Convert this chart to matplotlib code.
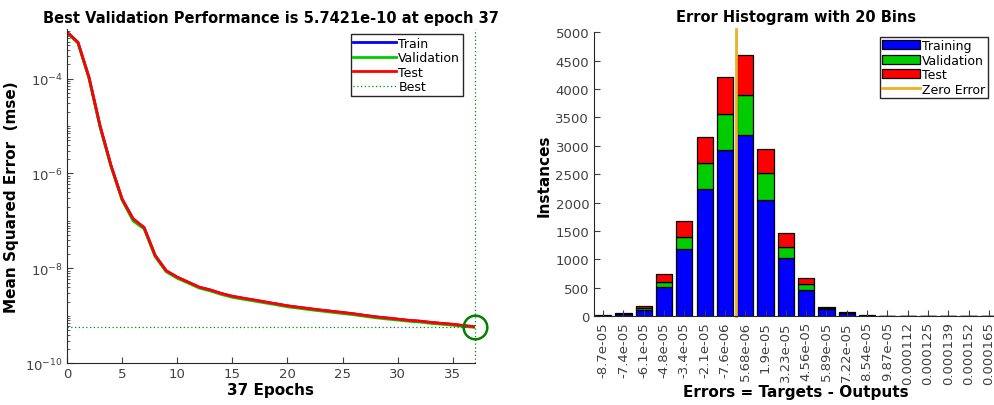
import numpy as np
import matplotlib
matplotlib.use("Agg")
import matplotlib.pyplot as plt
from matplotlib.ticker import LogLocator, NullFormatter

# training record (mse per epoch)
epochs = list(range(38))
train_mse = [9.55e-4, 5.75e-4, 1.05e-4, 1.0e-5, 1.45e-6, 2.88e-7, 1.10e-7, 7.2e-8,
             1.86e-8, 8.9e-9, 6.5e-9, 5.1e-9, 4.0e-9, 3.5e-9, 2.95e-9, 2.57e-9,
             2.34e-9, 2.14e-9, 1.95e-9, 1.78e-9, 1.62e-9, 1.51e-9, 1.41e-9, 1.32e-9,
             1.245e-9, 1.17e-9, 1.10e-9, 1.02e-9, 9.5e-10, 9.0e-10, 8.5e-10, 8.0e-10,
             7.7e-10, 7.25e-10, 6.9e-10, 6.6e-10, 6.2e-10, 5.85e-10]
val_mse = [9.3e-4, 5.6e-4, 1.02e-4, 9.6e-6, 1.39e-6, 2.75e-7, 1.0e-7, 6.8e-8,
           1.76e-8, 8.5e-9, 6.2e-9, 4.9e-9, 3.85e-9, 3.35e-9, 2.83e-9, 2.46e-9,
           2.24e-9, 2.05e-9, 1.87e-9, 1.71e-9, 1.55e-9, 1.45e-9, 1.35e-9, 1.27e-9,
           1.19e-9, 1.12e-9, 1.055e-9, 9.8e-10, 9.1e-10, 8.6e-10, 8.15e-10, 7.7e-10,
           7.4e-10, 6.95e-10, 6.65e-10, 6.35e-10, 5.98e-10, 5.7421e-10]
test_mse = [9.6e-4, 5.8e-4, 1.06e-4, 1.01e-5, 1.46e-6, 2.9e-7, 1.11e-7, 7.25e-8,
            1.87e-8, 8.95e-9, 6.55e-9, 5.15e-9, 4.03e-9, 3.52e-9, 2.97e-9, 2.59e-9,
            2.36e-9, 2.16e-9, 1.96e-9, 1.79e-9, 1.63e-9, 1.52e-9, 1.42e-9, 1.33e-9,
            1.25e-9, 1.18e-9, 1.105e-9, 1.025e-9, 9.55e-10, 9.05e-10, 8.55e-10, 8.05e-10,
            7.75e-10, 7.3e-10, 6.95e-10, 6.65e-10, 6.25e-10, 5.9e-10]
best_epoch = 37
best_perf = 5.7421e-10

# error histogram, 20 bins
bin_labels = ["-8.7e-05", "-7.4e-05", "-6.1e-05", "-4.8e-05", "-3.4e-05", "-2.1e-05",
              "-7.6e-06", "5.68e-06", "1.9e-05", "3.23e-05", "4.56e-05", "5.89e-05",
              "7.22e-05", "8.54e-05", "9.87e-05", "0.000112", "0.000125", "0.000139",
              "0.000152", "0.000165"]
bin_first = -8.7e-05
bin_last = 0.000165
hist_train = [10, 38, 111, 521, 1184, 2235, 2932, 3186, 2055, 1021, 463, 128, 55, 10, 0, 0, 0, 0, 0, 0]
hist_val = [3, 8, 30, 88, 206, 458, 634, 709, 462, 204, 100, 18, 8, 3, 0, 0, 0, 0, 0, 0]
hist_test = [3, 7, 35, 135, 282, 457, 651, 709, 422, 236, 106, 18, 7, 2, 0, 0, 0, 0, 0, 0]

TICK_C = "#404040"
plt.rcParams["font.family"] = "DejaVu Sans"
plt.rcParams["xtick.direction"] = "in"
plt.rcParams["ytick.direction"] = "in"
plt.rcParams["axes.edgecolor"] = "#262626"

fig = plt.figure(figsize=(9.95, 4.06), dpi=100)

# ---- performance plot ----
ax1 = fig.add_axes([0.0673, 0.1027, 0.410, 0.823])
ax1.semilogy(epochs, train_mse, color=(0, 0, 1), lw=2, label="Train")
ax1.semilogy(epochs, val_mse, color=(0, 0.8, 0), lw=2, label="Validation")
ax1.semilogy(epochs, test_mse, color=(1, 0, 0), lw=2, label="Test")
ax1.axhline(best_perf, color=(0, 0.55, 0), lw=0.9, ls=(0, (1, 2)), label="Best")
ax1.axvline(best_epoch, color=(0, 0.55, 0), lw=0.9, ls=(0, (1, 2)), clip_on=False)
ax1.plot([best_epoch], [best_perf], "o", ms=17, mfc="none", mec=(0, 0.5, 0), mew=1.8,
         clip_on=False)
ax1.set_xlim(0, 37)
ax1.set_ylim(1e-10, 1.1e-3)
ax1.set_yticks([1e-10, 1e-8, 1e-6, 1e-4])
ax1.yaxis.set_minor_locator(LogLocator(base=10, subs=np.arange(1, 10), numticks=20))
ax1.yaxis.set_minor_formatter(NullFormatter())
ax1.set_xticks(range(0, 36, 5))
ax1.tick_params(labelsize=9.5, colors=TICK_C, length=4, pad=3)
ax1.tick_params(which="minor", length=2.5, colors=TICK_C)
ax1.spines["top"].set_visible(False)
ax1.spines["right"].set_visible(False)
ax1.set_title("Best Validation Performance is %.4fe-10 at epoch %d" % (best_perf * 1e10, best_epoch),
              fontsize=10.5, fontweight="bold", pad=5)
ax1.set_xlabel("%d Epochs" % best_epoch, fontsize=11, fontweight="bold", labelpad=1)
ax1.set_ylabel("Mean Squared Error  (mse)", fontsize=11, fontweight="bold", labelpad=4)
leg1 = ax1.legend(loc="upper right", bbox_to_anchor=(0.97, 0.985), fontsize=9,
                  handlelength=3.4, handletextpad=0.2, borderpad=0.2, labelspacing=0.12,
                  fancybox=False, framealpha=1, borderaxespad=0)
leg1.get_frame().set_edgecolor("#262626")

# ---- error histogram ----
ax2 = fig.add_axes([0.597, 0.2185, 0.406, 0.6995])
x = np.arange(len(bin_labels))
bottom_val = np.array(hist_train)
bottom_test = bottom_val + np.array(hist_val)
b1 = ax2.bar(x, hist_train, width=0.8, color=(0, 0, 1), edgecolor="black", lw=0.9, label="Training")
b2 = ax2.bar(x, hist_val, width=0.8, bottom=bottom_val, color=(0, 0.8, 0), edgecolor="black", lw=0.9,
             label="Validation")
b3 = ax2.bar(x, hist_test, width=0.8, bottom=bottom_test, color=(1, 0, 0), edgecolor="black", lw=0.9,
             label="Test")
step = (bin_last - bin_first) / (len(bin_labels) - 1)
zero_pos = (0 - bin_first) / step
zl = ax2.axvline(zero_pos, ymax=1.012, color=(0.93, 0.69, 0.13), lw=2, label="Zero Error",
                 clip_on=False)
ax2.set_xlim(-0.45, 19.45)
ax2.set_ylim(0, 5000)
ax2.set_yticks(range(0, 5001, 500))
ax2.set_xticks(x)
ax2.set_xticklabels(bin_labels, rotation=90)
ax2.tick_params(labelsize=9.5, colors=TICK_C, length=4)
ax2.spines["top"].set_visible(False)
ax2.spines["right"].set_visible(False)
ax2.set_title("Error Histogram with 20 Bins", fontsize=10.5, fontweight="bold", pad=8)
ax2.set_xlabel("Errors = Targets - Outputs", fontsize=11, fontweight="bold", labelpad=0)
ax2.set_ylabel("Instances", fontsize=11, fontweight="bold", labelpad=3)
leg2 = ax2.legend([b1, b2, b3, zl], ["Training", "Validation", "Test", "Zero Error"],
                  loc="upper right", bbox_to_anchor=(0.975, 0.985), fontsize=9,
                  handlelength=3.0, handletextpad=0.2, borderpad=0.2, labelspacing=0.12,
                  fancybox=False, framealpha=1, borderaxespad=0)
leg2.get_frame().set_edgecolor("#262626")

fig.savefig("out.png", dpi=100)
